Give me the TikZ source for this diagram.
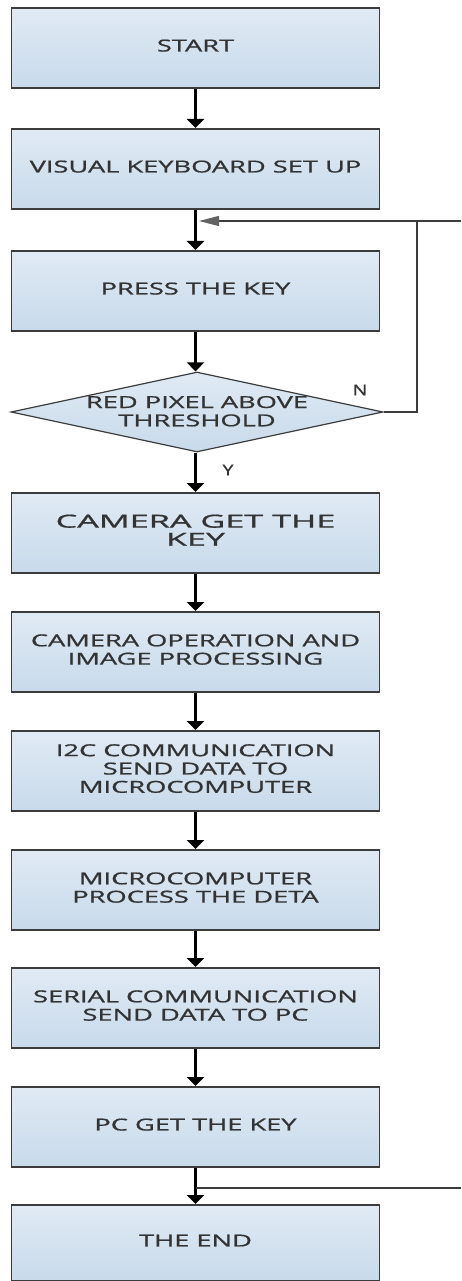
\documentclass[tikz,border=0pt]{standalone}
\usepackage{fontspec}
\setmainfont{Open Sans}
\newfontfamily\boxfont{Open Sans}[FakeBold=0.9]
\usepackage{graphicx}
\usetikzlibrary{arrows.meta,shapes.geometric}
\definecolor{boxtop}{HTML}{E0EAF4}
\definecolor{boxbot}{HTML}{C8DAEB}
\definecolor{edge}{HTML}{3C3C3C}
\definecolor{ink}{HTML}{333333}
\newcommand{\wide}[1]{\scalebox{1.65}[1]{\begin{tabular}{@{}c@{}}#1\end{tabular}}}
\tikzset{
  x=1pt, y=-1pt,
  stepbox/.style={draw=edge, line width=1.6pt, top color=boxtop, bottom color=boxbot,
    minimum width=368pt, minimum height=80pt, inner sep=0pt, anchor=north},
  decision/.style={draw=edge, line width=1.2pt, top color=boxtop, bottom color=boxbot,
    diamond, minimum width=372pt, minimum height=80pt, inner sep=0pt},
  txt/.style={text=ink, font=\boxfont\fontsize{16.5}{18.3}\selectfont, inner sep=0pt},
  flow/.style={draw=black, line width=2.6pt, -{Triangle[width=17pt,length=9pt]}},
  back/.style={draw=edge, line width=1.3pt},
  backtip/.style={back, -{Triangle[width=10pt,length=20pt,color=edge!80]}},
  branchlabel/.style={text=ink, font=\boxfont\fontsize{15}{15}\selectfont, inner sep=0pt}
}
\begin{document}
\begin{tikzpicture}
\useasboundingbox[fill=white] (0,0) rectangle (461,1281);

% process steps
\node[stepbox] (start) at (195.5,7) {};
\node[txt] at (start) {\wide{START}};
\node[stepbox] (setup) at (195.5,128) {};
\node[txt] at (setup) {\wide{VISUAL KEYBOARD SET UP}};
\node[stepbox] (press) at (195.5,250) {};
\node[txt] at (press) {\wide{PRESS THE KEY}};

% decision
\node[decision] (red) at (197,412) {};
\node[txt] at ([yshift=-1.5pt]red.center) {\wide{RED PIXEL ABOVE\\THRESHOLD}};

\node[stepbox] (cam) at (195.5,492) {};
\node[txt, font=\boxfont\fontsize{18}{17.5}\selectfont] at (cam) {\scalebox{1.9}[1]{\begin{tabular}{@{}c@{}}CAMERA GET THE\\KEY\end{tabular}}};
\node[stepbox] (camop) at (195.5,611) {};
\node[txt] at (camop) {\wide{CAMERA OPERATION AND\\IMAGE PROCESSING}};
\node[stepbox] (i2c) at (195.5,730) {};
\node[txt] at (i2c) {\wide{I2C COMMUNICATION\\SEND DATA TO\\MICROCOMPUTER}};
\node[stepbox] (micro) at (195.5,849) {};
\node[txt] at (micro) {\wide{MICROCOMPUTER\\PROCESS THE DETA}};
\node[stepbox] (serial) at (195.5,967) {};
\node[txt] at (serial) {\wide{SERIAL COMMUNICATION\\SEND DATA TO PC}};
\node[stepbox] (pc) at (195.5,1086) {};
\node[txt] at (pc) {\wide{PC GET THE KEY}};
\node[stepbox, minimum height=76pt] (end) at (195.5,1204) {};
\node[txt] at (end) {\wide{THE END}};

% main flow
\draw[flow] (start) -- (setup);
\draw[flow] (setup) -- (press);
\draw[flow] (press) -- (red.north -| press.south);
\draw[flow] (red.south -| press.south) -- (cam);
\draw[flow] (cam) -- (camop);
\draw[flow] (camop) -- (i2c);
\draw[flow] (i2c) -- (micro);
\draw[flow] (micro) -- (serial);
\draw[flow] (serial) -- (pc);
\draw[flow] (pc) -- (end);

% loop back when the threshold is not reached
\coordinate (loopbot) at (417,412);
\coordinate (looptop) at (417,221);
\coordinate (rimtop) at (461,221);
\coordinate (loopend) at (199,221);
\draw[back] (red.east) -- (loopbot) -- (looptop);
\draw[backtip] (rimtop) -- (loopend);

% line leaving the last junction
\coordinate (junction) at (195.5,1188);
\coordinate (rimbot) at (461,1188);
\draw[back] (junction) -- (rimbot);

% branch labels
\node[branchlabel] (no) at (360,390) {\scalebox{1.3}[1]{N}};
\node[branchlabel] (yes) at (228,470) {\scalebox{1.3}[1]{Y}};
\end{tikzpicture}
\end{document}
